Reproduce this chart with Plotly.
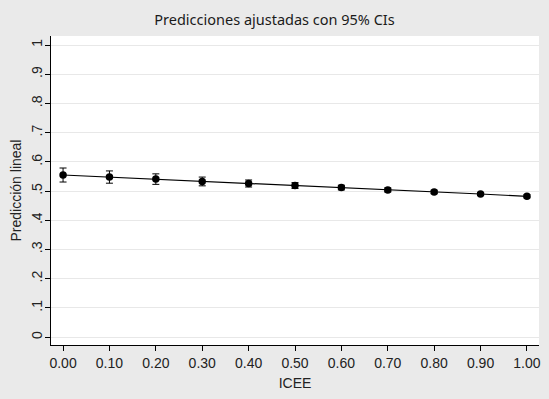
import plotly.graph_objects as go

icee = [0.0, 0.1, 0.2, 0.3, 0.4, 0.5, 0.6, 0.7, 0.8, 0.9, 1.0]
pred = [0.555, 0.548, 0.541, 0.533, 0.526, 0.519, 0.512, 0.504, 0.497, 0.490, 0.482]
ci_half = [0.024, 0.021, 0.018, 0.015, 0.012, 0.010, 0.008, 0.007, 0.006, 0.005, 0.005]
x_ticks = [0.0, 0.1, 0.2, 0.3, 0.4, 0.5, 0.6, 0.7, 0.8, 0.9, 1.0]
x_labels = ["0.00", "0.10", "0.20", "0.30", "0.40", "0.50", "0.60", "0.70", "0.80", "0.90", "1.00"]
y_ticks = [0, 0.1, 0.2, 0.3, 0.4, 0.5, 0.6, 0.7, 0.8, 0.9, 1]
y_labels = ["0", ".1", ".2", ".3", ".4", ".5", ".6", ".7", ".8", ".9", "1"]

fig = go.Figure()
fig.add_trace(go.Scatter(
    x=icee, y=pred, mode="lines+markers",
    line=dict(color="black", width=1.2),
    marker=dict(color="black", size=7.5),
    error_y=dict(type="data", array=ci_half, color="black", thickness=1, width=3.5),
    showlegend=False,
))

fig.update_layout(
    width=549, height=399,
    paper_bgcolor="#eaeaea", plot_bgcolor="white",
    margin=dict(l=51, r=10, t=36, b=54),
    title=dict(text="Predicciones ajustadas con 95% CIs", x=0.5, xanchor="center",
               y=0.95, yanchor="middle",
               font=dict(family="Noto Sans", size=14.5, color="#1a1a1a")),
    font=dict(family="Liberation Sans", size=14, color="#222"),
)
fig.update_xaxes(
    range=[-0.026, 1.026], tickvals=x_ticks, ticktext=x_labels, automargin=False,
    showgrid=False, zeroline=False, showline=True, linecolor="black", linewidth=1,
    ticks="outside", ticklen=5, tickcolor="black",
    title=dict(text="ICEE", font=dict(family="Liberation Sans", size=14), standoff=8),
)
fig.update_yaxes(
    range=[-0.027, 1.031], tickvals=y_ticks, ticktext=y_labels, tickangle=-90, automargin=False,
    ticklabelstandoff=-3,
    showgrid=True, gridcolor="#e8e8e8", gridwidth=1, zeroline=False,
    showline=True, linecolor="black", linewidth=1,
    ticks="outside", ticklen=5, tickcolor="black",
    title=dict(text="Predicción lineal", font=dict(family="Liberation Sans", size=14), standoff=4),
)
fig.write_html("out.html", config={"displayModeBar": False},
               post_script="document.body.style.margin='0';document.body.style.overflow='hidden';")
